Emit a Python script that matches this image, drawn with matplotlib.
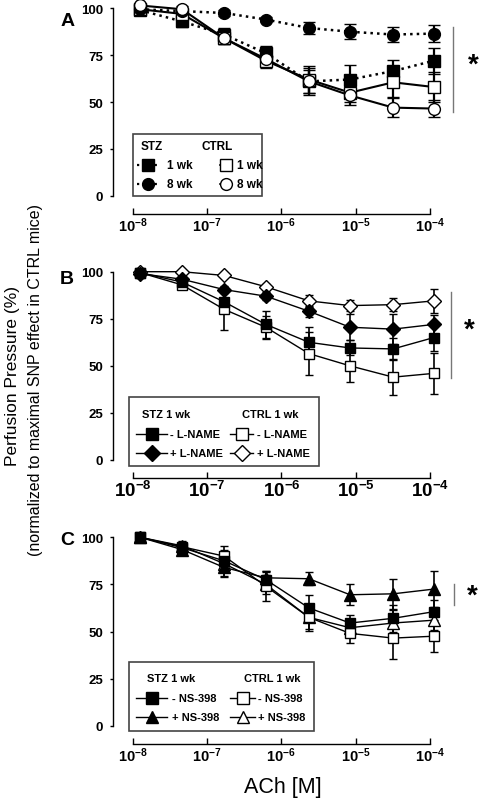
import matplotlib
matplotlib.use("Agg")
import matplotlib.pyplot as plt
from matplotlib.lines import Line2D
from matplotlib.patches import Rectangle

plt.rcParams['font.family'] = ['Liberation Sans', 'DejaVu Sans']
plt.rcParams['mathtext.fontset'] = 'custom'
plt.rcParams['mathtext.rm'] = 'Liberation Sans'
plt.rcParams['mathtext.bf'] = 'Liberation Sans:bold'

W, H = 480, 804

# ACh concentrations (M)
conc = [1.26e-8, 4.6e-8, 1.7e-7, 6.2e-7, 2.35e-6, 8.4e-6, 3.2e-5, 1.12e-4]
xticks = [1e-8, 1e-7, 1e-6, 1e-5, 1e-4]
xticklabels = [r'$\mathbf{10^{-8}}$', r'$\mathbf{10^{-7}}$', r'$\mathbf{10^{-6}}$',
               r'$\mathbf{10^{-5}}$', r'$\mathbf{10^{-4}}$']
yticks = [0, 25, 50, 75, 100]

# panel A
a_stz1 = [99, 93, 86, 76, 61, 62, 66.5, 72]
a_stz1_err = [1.5, 3, 3.5, 4, 7, 7.5, 6, 7]
a_stz8 = [99.5, 98.5, 97.5, 94, 89.5, 87.5, 86, 86.5]
a_stz8_err = [1, 1, 1.5, 1.5, 3, 4, 4, 4.5]
a_ctrl1 = [99.5, 97, 84, 72, 62, 55, 60.5, 58]
a_ctrl1_err = [1, 2, 3, 4, 7, 5, 8, 8]
a_ctrl8 = [101.5, 99.5, 84, 73, 61, 53.5, 47, 46.5]
a_ctrl8_err = [1, 1.5, 3, 4, 6, 5, 5, 4.5]

# panel B
b_stz_m = [99.5, 94.5, 84, 72, 62.5, 59.5, 59, 65]
b_stz_m_err = [1, 2, 6, 7, 8, 4, 6, 7]
b_stz_p = [99, 96, 90.5, 87, 79, 70.5, 69.5, 72]
b_stz_p_err = [1, 1.5, 2, 2, 3, 7, 8, 5]
b_ctrl_m = [99.5, 93, 80, 70.5, 56.5, 50, 44, 46]
b_ctrl_m_err = [1, 2, 11, 6, 11.5, 8.5, 9.5, 11]
b_ctrl_p = [100, 100, 98, 92, 84.5, 82, 82.5, 84.5]
b_ctrl_p_err = [0.5, 0.5, 1, 1.5, 3, 3, 3.5, 6.5]

# panel C
c_stz_m = [100, 94.5, 87.5, 77.5, 62.5, 54.5, 57, 60.5]
c_stz_m_err = [1, 3, 8, 4, 7, 4, 7, 6]
c_stz_p = [100, 93.5, 84, 78.5, 78, 69.5, 70, 72.5]
c_stz_p_err = [1, 2, 5, 3.5, 3.5, 5.5, 8, 9.5]
c_ctrl_m = [100, 95, 90, 74, 57.5, 49, 46.5, 47.5]
c_ctrl_m_err = [1, 3, 3, 8, 6, 5, 11, 8.5]
c_ctrl_p = [100, 95.5, 86, 75, 57.5, 52, 54.5, 56]
c_ctrl_p_err = [1, 2, 4, 5, 7, 4, 7, 5]

fig = plt.figure(figsize=(W / 100, H / 100), dpi=100)


def fx(x):
    return x / W


def fy(y):
    return 1 - y / H


def make_axes(top, bottom, xfs):
    # axes from x=113 to 445 px, y from value 100 (top) to 0 (bottom)
    ax = fig.add_axes([fx(113), fy(bottom), fx(445) - fx(113), fy(top) - fy(bottom)])
    ax.set_xscale('log')
    ax.set_xlim(10 ** -8.265, 10 ** -3.798)
    ax.set_ylim(0, 100)
    ax.spines['top'].set_visible(False)
    ax.spines['right'].set_visible(False)
    ax.spines['left'].set_bounds(0, 100)
    ax.spines['bottom'].set_position(('outward', 13))
    ax.spines['bottom'].set_bounds(1e-8, 1e-4)
    ax.set_xticks(xticks)
    ax.set_xticklabels(xticklabels, fontsize=xfs)
    ax.xaxis.set_minor_locator(matplotlib.ticker.NullLocator())
    ax.set_yticks(yticks)
    ax.set_yticklabels([str(v) for v in yticks], fontsize=9.5, fontweight='bold')
    ax.tick_params(axis='x', direction='in', length=4, width=1, pad=1.5)
    ax.tick_params(axis='y', direction='out', length=2.5, width=1, pad=4.5)
    for s in ('left', 'bottom'):
        ax.spines[s].set_linewidth(1)
    return ax


def series(ax, y, err, marker, filled, ls='-', lw=1.0, ms=7, elw=1.2, cap=3):
    ax.errorbar(conc, y, yerr=err, color='black', ls=ls, lw=lw, marker=marker,
                ms=ms, mfc='black' if filled else 'white', mec='black', mew=1.0,
                ecolor='black', elinewidth=elw, capsize=cap, capthick=elw,
                clip_on=False, zorder=3)


def legend_box(x0, x1, y0, y1):
    fig.add_artist(Rectangle((fx(x0), fy(y1)), fx(x1) - fx(x0), fy(y0) - fy(y1),
                             transform=fig.transFigure, fill=False,
                             edgecolor='#444444', lw=1.2))


def legend_key(xl0, xl1, xm, y, marker, filled, ls='-', lw=1.0, ms=7):
    fig.add_artist(Line2D([fx(xl0), fx(xl1)], [fy(y), fy(y)], transform=fig.transFigure,
                          color='black', ls=ls, lw=lw))
    fig.add_artist(Line2D([fx(xm)], [fy(y)], transform=fig.transFigure, marker=marker,
                          ms=ms, mfc='black' if filled else 'white', mec='black',
                          mew=1.0, ls='none'))


def ftext(x, y, s, **kw):
    fig.text(fx(x), fy(y), s, **kw)


def signif(x, y0, y1, xs, ys):
    fig.add_artist(Line2D([fx(x), fx(x)], [fy(y0), fy(y1)], transform=fig.transFigure,
                          color='#777777', lw=1))
    ftext(xs, ys, '*', fontsize=20, fontweight='bold', ha='center', va='center')


# ---- panel A
axA = make_axes(9.3, 196.7, 10.5)
series(axA, a_stz1, a_stz1_err, 's', True, ls=':', lw=1.8, ms=8, elw=1.6, cap=4.3)
series(axA, a_ctrl1, a_ctrl1_err, 's', False, ls='-', lw=1.5, ms=8, elw=1.6, cap=4.3)
series(axA, a_stz8, a_stz8_err, 'o', True, ls=':', lw=1.8, ms=8.5, elw=1.6, cap=4.3)
series(axA, a_ctrl8, a_ctrl8_err, 'o', False, ls='-', lw=1.5, ms=8.5, elw=1.6, cap=4.3)
ftext(68, 21, 'A', fontsize=14, fontweight='bold', ha='center', va='center')
signif(453, 27.7, 113.3, 473, 66)

legend_box(132.7, 261.7, 135, 196.7)
ftext(151.7, 146.7, 'STZ', fontsize=8.5, fontweight='bold', ha='center', va='center')
ftext(216.7, 146.7, 'CTRL', fontsize=8.5, fontweight='bold', ha='center', va='center')
legend_key(136.7, 160, 148, 165.7, 's', True, ls=':', lw=1.6, ms=8)
legend_key(136.7, 160, 148, 185, 'o', True, ls=':', lw=1.6, ms=8.5)
legend_key(220, 231.7, 225.5, 165.7, 's', False, lw=1.2, ms=8)
legend_key(220, 231.7, 225.5, 185, 'o', False, lw=1.2, ms=8.5)
for xx in (166.7, 236.7):
    ftext(xx, 165.7, '1 wk', fontsize=8.5, fontweight='bold', va='center')
    ftext(xx, 185, '8 wk', fontsize=8.5, fontweight='bold', va='center')

# ---- panel B
axB = make_axes(272.7, 461, 13.5)
series(axB, b_ctrl_p, b_ctrl_p_err, 'D', False, ms=7)
series(axB, b_stz_p, b_stz_p_err, 'D', True, ms=7)
series(axB, b_ctrl_m, b_ctrl_m_err, 's', False, ms=7.5)
series(axB, b_stz_m, b_stz_m_err, 's', True, ms=7.5)
ftext(67, 280, 'B', fontsize=14, fontweight='bold', ha='center', va='center')
signif(451, 293.3, 379.3, 469, 331)

legend_box(129.3, 319.3, 398.3, 467.3)
ftext(166.3, 415, 'STZ 1 wk', fontsize=8, fontweight='bold', ha='center', va='center')
ftext(270.5, 415, 'CTRL 1 wk', fontsize=8, fontweight='bold', ha='center', va='center')
legend_key(136, 166.7, 151.7, 435, 's', True, ms=8)
legend_key(136, 166.7, 151.7, 454.3, 'D', True, ms=8)
legend_key(230, 253.3, 241.7, 435, 's', False, ms=8)
legend_key(230, 253.3, 241.7, 454.3, 'D', False, ms=8)
for xx in (170, 256.7):
    ftext(xx, 435, '- L-NAME', fontsize=8, fontweight='bold', va='center')
    ftext(xx, 454.3, '+ L-NAME', fontsize=8, fontweight='bold', va='center')

# ---- panel C
axC = make_axes(538.3, 726.7, 10.5)
series(axC, c_ctrl_p, c_ctrl_p_err, '^', False, ms=8)
series(axC, c_ctrl_m, c_ctrl_m_err, 's', False, ms=7.5)
series(axC, c_stz_m, c_stz_m_err, 's', True, ms=7.5)
series(axC, c_stz_p, c_stz_p_err, '^', True, ms=8)
ftext(67, 541, 'C', fontsize=14, fontweight='bold', ha='center', va='center')
signif(454, 585, 606, 472, 597)

legend_box(129.3, 314, 663.3, 732.3)
ftext(171.3, 679.3, 'STZ 1 wk', fontsize=8, fontweight='bold', ha='center', va='center')
ftext(272.5, 679.3, 'CTRL 1 wk', fontsize=8, fontweight='bold', ha='center', va='center')
legend_key(136, 167.3, 151.7, 699, 's', True, ms=8)
legend_key(136, 167.3, 151.7, 718.3, '^', True, ms=8.5)
legend_key(230, 255, 243.3, 699, 's', False, ms=8)
legend_key(230, 255, 243.3, 718.3, '^', False, ms=8.5)
for xx in (171.7, 258.3):
    ftext(xx, 699, '- NS-398', fontsize=8, fontweight='bold', va='center')
    ftext(xx, 718.3, '+ NS-398', fontsize=8, fontweight='bold', va='center')

# shared labels
ftext(13, 376, 'Perfusion Pressure (%)', fontsize=12.5, rotation=90, ha='center', va='center')
ftext(36, 380, '(normalized to maximal SNP effect in CTRL mice)', fontsize=11.5,
      rotation=90, ha='center', va='center')
ftext(283, 788, 'ACh [M]', fontsize=15.5, ha='center', va='center')

fig.savefig('out.png', dpi=100)
